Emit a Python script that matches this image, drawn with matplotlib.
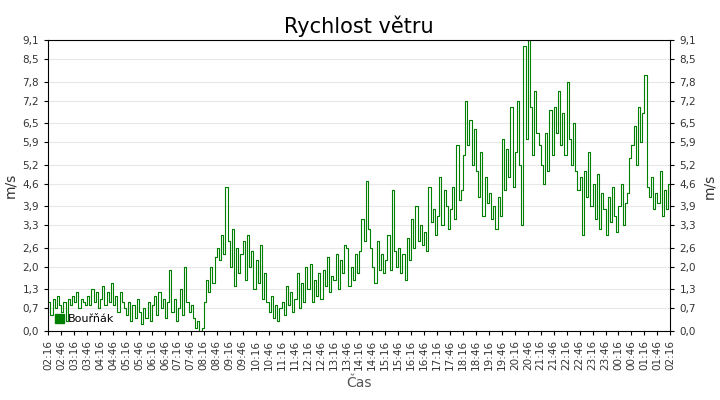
import matplotlib
matplotlib.use("Agg")
import matplotlib.pyplot as plt
import numpy as np
from matplotlib.patches import Patch

# wind speed, 5-minute samples from 02:16 to 02:16 next day
speed = [
 0.9,0.5,1.0,0.7,1.1,0.8,  0.6,0.9,0.3,1.0,0.8,1.1,  0.9,1.2,0.7,1.0,0.9,0.8,
 1.1,0.8,1.3,0.9,1.2,0.7,  1.0,1.4,0.8,1.2,0.9,1.5,  0.8,1.1,0.6,1.2,0.9,0.7,
 0.5,0.9,0.3,0.8,0.4,1.0,  0.6,0.2,0.7,0.4,0.9,0.3,  0.8,1.1,0.5,1.2,0.7,1.0,
 0.4,0.9,1.9,0.6,1.0,0.3,  0.7,1.3,0.5,2.0,0.9,0.6,  0.8,0.4,0.1,0.3,0.0,0.1,
 0.9,1.6,1.2,2.0,1.5,2.3,  2.6,2.2,3.0,2.4,4.5,2.8,  2.0,3.2,1.4,2.6,1.8,2.4,
 2.8,1.6,3.0,2.0,2.5,1.3,  2.2,1.5,2.7,1.0,1.8,0.9,  0.6,1.1,0.4,0.8,0.3,0.7,
 0.9,0.5,1.4,0.8,1.2,0.6,  1.0,1.8,0.7,1.5,0.9,2.0,  1.3,2.1,0.9,1.6,1.1,1.8,
 1.0,1.9,1.4,2.3,1.2,1.7,  1.6,2.4,1.3,2.2,1.8,2.7,  2.6,1.4,2.0,1.6,2.4,1.8,
 2.5,3.5,2.8,4.7,3.2,2.6,  2.0,1.5,2.8,1.9,2.4,1.8,  2.2,3.0,1.9,4.4,2.5,2.0,
 2.6,1.8,2.4,1.6,2.9,2.2,  3.5,2.6,3.9,2.8,3.3,2.7,  3.1,2.5,4.5,3.4,3.8,3.0,
 3.6,4.8,3.3,4.4,3.9,3.2,  3.8,4.5,3.5,5.8,4.1,4.4,  5.5,7.2,5.8,6.6,5.2,6.3,
 5.0,4.2,5.6,3.6,4.8,4.0,  4.3,3.5,3.9,3.2,4.2,3.6,  6.0,4.4,5.7,4.8,7.0,4.5,
 5.6,7.2,5.2,3.3,8.9,6.0,  9.1,7.0,5.5,7.5,6.2,5.8,  5.2,4.6,6.2,5.0,6.9,5.5,
 7.0,6.2,7.5,5.8,6.8,5.5,  7.8,6.0,5.2,6.5,5.0,4.4,  4.8,3.0,5.0,4.2,5.6,3.9,
 4.6,3.5,4.9,3.2,4.3,3.8,  3.0,4.2,3.4,4.5,3.6,3.1,  3.9,4.6,3.3,4.0,4.3,5.4,
 5.8,6.4,5.2,7.0,5.9,6.8,  8.0,4.5,4.2,4.8,3.8,4.3,  4.0,5.0,3.6,4.4,3.8,4.6,
 4.2,3.4,4.8,3.0,3.9,4.4,  4.6,3.8,5.3,4.0,4.9,3.6,  3.5,4.7,3.8,5.0,4.4,5.6,
 6.6,7.2,6.3,6.9,6.5,6.6,  6.8,7.1,6.6,6.6
]
minutes = np.arange(len(speed)) * 5
tick_labels = []
for i in range(49):
    t = 2*60 + 16 + i*30
    tick_labels.append(f"{(t//60)%24:02d}:{t%60:02d}")
yticks = [0.0,0.7,1.3,2.0,2.6,3.3,3.9,4.6,5.2,5.9,6.5,7.2,7.8,8.5,9.1]
ytick_labels = [f"{v:.1f}".replace(".", ",") for v in yticks]

fig = plt.figure(figsize=(7.2, 4.0), dpi=100)
ax = fig.add_axes([0.067, 0.173, 0.864, 0.727])
ax.step(minutes, speed, where="post", color="#008000", lw=0.8)
ax.set_xlim(0, 1440)
ax.set_ylim(0, 9.1)
ax.set_xticks(np.arange(49)*30)
ax.set_xticklabels(tick_labels, rotation=90, fontsize=7.5, color="#333333")
ax.set_yticks(yticks)
ax.set_yticklabels(ytick_labels, fontsize=7.5, color="#333333")
ax.tick_params(axis="y", which="both", right=True, labelright=True, length=3)
ax.tick_params(axis="x", length=3)
ax.grid(axis="y", color="#e8e8e8", lw=0.8)
ax.set_axisbelow(True)
ax.set_ylabel("m/s", fontsize=10, color="#333333")
fig.text(0.985, 0.535, "m/s", rotation=90, fontsize=10, color="#333333",
         ha="center", va="center")
ax.set_xlabel("Čas", fontsize=10, color="#555555")
ax.set_title("Rychlost větru", fontsize=15, pad=5)
ax.legend(handles=[Patch(color="#008000", label="Bouřňák")], loc="lower left",
          frameon=False, fontsize=8, handlelength=0.8, handleheight=0.8,
          borderaxespad=0.2, handletextpad=0.4)
fig.savefig("out.png", dpi=100)
